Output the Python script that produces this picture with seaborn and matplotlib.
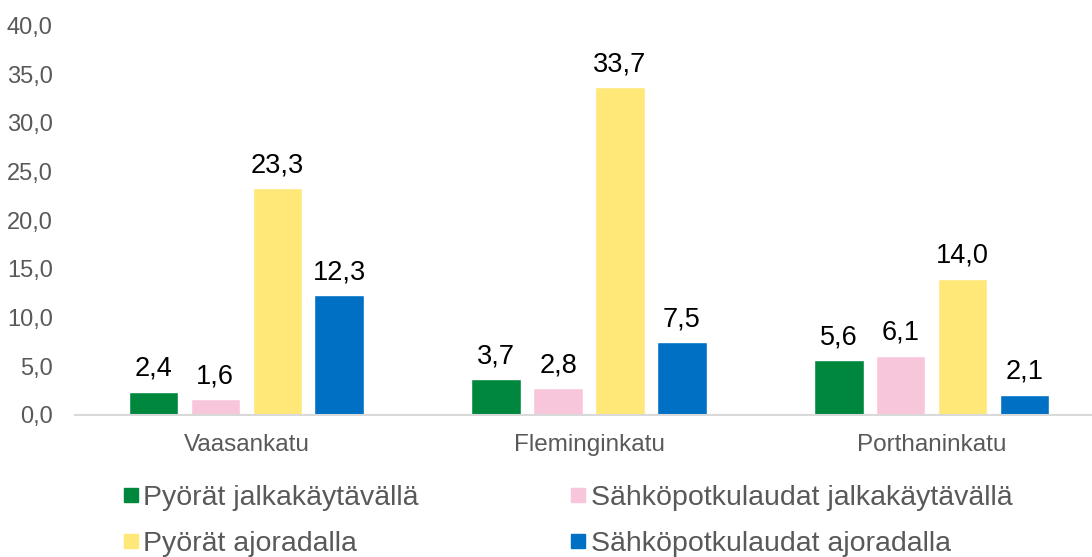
import pandas as pd
import seaborn as sns
import matplotlib.pyplot as plt
from matplotlib.lines import Line2D
from matplotlib.ticker import FuncFormatter

kadut = ["Vaasankatu", "Fleminginkatu", "Porthaninkatu"]
sarjat = ["Pyörät jalkakäytävällä", "Sähköpotkulaudat jalkakäytävällä",
          "Pyörät ajoradalla", "Sähköpotkulaudat ajoradalla"]
pyorat_jalka = [2.4, 3.7, 5.6]
sahko_jalka = [1.6, 2.8, 6.1]
pyorat_ajo = [23.3, 33.7, 14.0]
sahko_ajo = [12.3, 7.5, 2.1]
varit = ["#00873E", "#F8C6DB", "#FFE878", "#0070C4"]
y_ticks = [0, 5, 10, 15, 20, 25, 30, 35, 40]

rows = []
for nimi, arvot in zip(sarjat, [pyorat_jalka, sahko_jalka, pyorat_ajo, sahko_ajo]):
    for katu, v in zip(kadut, arvot):
        rows.append({"katu": katu, "tyyppi": nimi, "arvo": v})
df = pd.DataFrame(rows)

sns.set_style("white")
plt.rcParams["font.family"] = ["Liberation Sans", "DejaVu Sans"]

fig = plt.figure(figsize=(10.92, 5.57), dpi=100)
ax = fig.add_axes([75 / 1092, 142 / 557, 1028 / 1092, 389.6 / 557])

sns.barplot(data=df, x="katu", y="arvo", hue="tyyppi", hue_order=sarjat,
            palette=varit, saturation=1, width=0.723, gap=0.2, ax=ax,
            errorbar=None, legend=False)

for c in ax.containers:
    ax.bar_label(c, fmt=lambda v: f"{v:.1f}".replace(".", ","),
                 padding=7, fontsize=19.5, color="black")

ax.set_ylim(0, 40)
ax.set_xlim(-0.5, 2.5)
ax.set_yticks(y_ticks)
ax.yaxis.set_major_formatter(FuncFormatter(lambda v, p: f"{v:.1f}".replace(".", ",")))
ax.tick_params(axis="y", length=0, pad=16, labelsize=17, labelcolor="#595959")
ax.tick_params(axis="x", length=0, pad=14, labelsize=17.5, labelcolor="#595959")
ax.set_xlabel("")
ax.set_ylabel("")
for s in ["top", "right", "left"]:
    ax.spines[s].set_visible(False)
ax.spines["bottom"].set_color("#D9D9D9")
ax.spines["bottom"].set_linewidth(1.5)

handles = [Line2D([], [], marker="s", linestyle="", markersize=10.5,
                  markerfacecolor=c, markeredgecolor=c) for c in varit]
order = [0, 2, 1, 3]
leg = fig.legend([handles[i] for i in order], [sarjat[i] for i in order],
                 ncol=2, loc="upper left", bbox_to_anchor=(122 / 1092, 1 - 485 / 557),
                 frameon=False, fontsize=20.5, handlelength=0.6, handletextpad=0.15,
                 columnspacing=5.3, labelspacing=0.7, borderpad=0, borderaxespad=0)
for t in leg.get_texts():
    t.set_color("#595959")

fig.savefig("out.png", dpi=100)
